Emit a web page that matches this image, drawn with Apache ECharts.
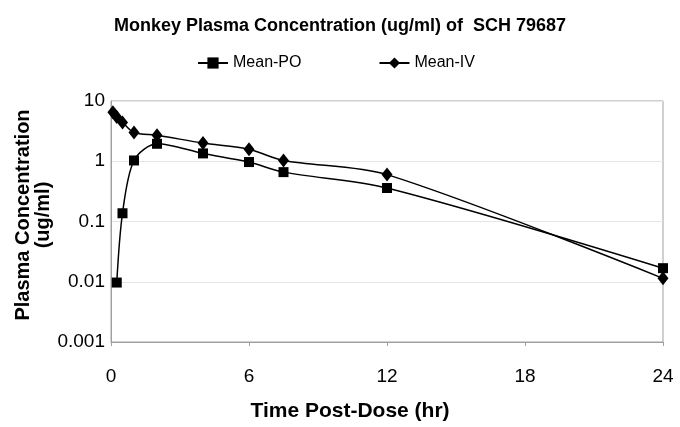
<!DOCTYPE html>
<html>
<head>
<meta charset="utf-8">
<script src="https://cdn.jsdelivr.net/npm/echarts@6/dist/echarts.min.js"></script>
<style>html,body{margin:0;padding:0;background:#fff}#c{width:680px;height:427px}</style>
</head>
<body>
<div id="c"></div>
<script>
const titleText = 'Monkey Plasma Concentration (ug/ml) of  SCH 79687';
const xTitle = 'Time Post-Dose (hr)';
const yTitle = 'Plasma Concentration\n(ug/ml)';
const poName = 'Mean-PO';
const ivName = 'Mean-IV';
const poTime = [0.25, 0.5, 1, 2, 4, 6, 7.5, 12, 24];
const poConc = [0.0097, 0.137, 1.03, 1.95, 1.35, 0.97, 0.66, 0.36, 0.0168];
const ivTime = [0.083, 0.25, 0.5, 1, 2, 4, 6, 7.5, 12, 24];
const ivConc = [6.5, 5.4, 4.4, 3.0, 2.7, 2.0, 1.58, 1.03, 0.6, 0.0114];
const xTicks = [0, 6, 12, 18, 24];
const yTicks = [0.001, 0.01, 0.1, 1, 10];

const font = 'Liberation Sans, Arial, sans-serif';
const chart = echarts.init(document.getElementById('c'), null, {renderer: 'canvas'});
chart.setOption({
  animation: false,
  backgroundColor: '#fff',
  title: {
    text: titleText, left: 'center', top: 12,
    textStyle: {fontFamily: font, fontWeight: 'bold', fontSize: 18, color: '#000'}
  },
  legend: {
    top: 50, left: 192, itemGap: 77, itemWidth: 30, itemHeight: 14,
    textStyle: {fontFamily: font, fontSize: 16, color: '#000', padding: [0, 0, 0, 0]},
    data: [poName, ivName]
  },
  graphic: [
    {type: 'text', x: 350, y: 401,
      style: {text: xTitle, font: 'bold 21px ' + font, fill: '#000', align: 'center', verticalAlign: 'top'}},
    {type: 'text', x: 13, y: 215, rotation: Math.PI / 2,
      style: {text: yTitle, font: 'bold 20px ' + font, fill: '#000', align: 'center', verticalAlign: 'top', lineHeight: 20}}
  ],
  grid: {left: 111, right: 17, top: 101, bottom: 85, show: true, borderColor: '#a0a0a0', borderWidth: 1},
  xAxis: {
    type: 'value', min: xTicks[0], max: xTicks[xTicks.length - 1], interval: 6,
    axisLine: {lineStyle: {color: '#a0a0a0', width: 1}},
    axisTick: {show: true, inside: false, length: 4, lineStyle: {color: '#a0a0a0'}},
    axisLabel: {fontFamily: font, fontSize: 19, color: '#000', margin: 25},
    splitLine: {show: false}
  },
  yAxis: {
    type: 'log', logBase: 10, min: yTicks[0], max: yTicks[yTicks.length - 1],
    axisLine: {show: true, lineStyle: {color: '#a0a0a0', width: 1}},
    axisTick: {show: false},
    axisLabel: {fontFamily: font, fontSize: 19, color: '#000', margin: 6,
      formatter: v => String(Number(v.toPrecision(3)))},
    splitLine: {show: true, lineStyle: {color: '#e6e6e6', width: 1}}
  },
  series: [
    {
      name: poName, type: 'line', smooth: 0.3,
      data: poTime.map((t, i) => [t, poConc[i]]),
      symbol: 'rect', symbolSize: 10,
      lineStyle: {color: '#000', width: 1.5},
      itemStyle: {color: '#000'}
    },
    {
      name: ivName, type: 'line', smooth: 0.3,
      data: ivTime.map((t, i) => [t, ivConc[i]]),
      symbol: 'diamond', symbolSize: [11, 14],
      lineStyle: {color: '#000', width: 1.5},
      itemStyle: {color: '#000'}
    }
  ]
});
</script>
</body>
</html>
